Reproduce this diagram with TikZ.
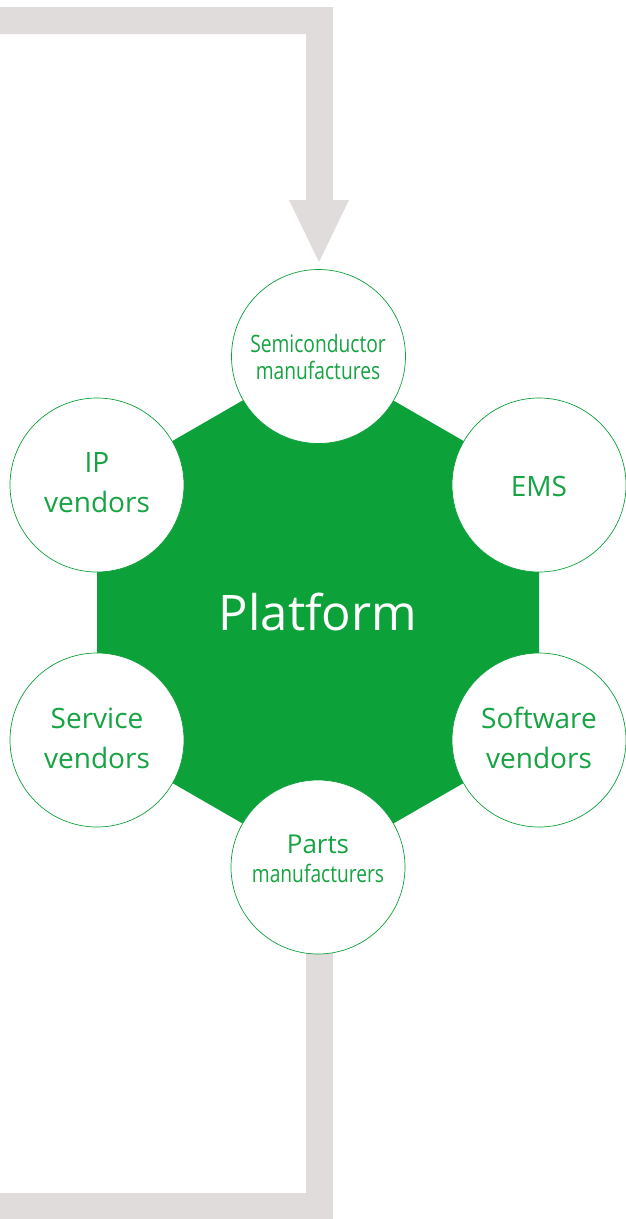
\documentclass[tikz,border=0pt]{standalone}
\usepackage{fontspec}
\setmainfont{Open Sans}
\newfontfamily\condfont[FakeStretch=0.8]{Open Sans}
\definecolor{hexgreen}{RGB}{13,161,58}
\definecolor{txtgreen}{RGB}{22,163,66}
\definecolor{arrowgray}{RGB}{224,220,219}
\begin{document}
\begin{tikzpicture}[x=1pt,y=-1pt,
  member/.style={circle,draw=hexgreen,line width=0.7pt,fill=white,minimum size=174pt,inner sep=0pt},
  lbl/.style={text=txtgreen,align=center,inner sep=0pt,font=\fontsize{28}{40}\selectfont},
  smalllbl/.style={text=txtgreen,align=center,inner sep=0pt,font=\condfont\fontsize{24}{27}\selectfont},
  band/.style={fill=arrowgray,draw=none}]
\useasboundingbox (0,0) rectangle (625,1219);
% flow arrows
\coordinate (topstart) at (0,7);
\coordinate (tipend) at (319,262);
\fill[band] (topstart) -- (333,7) -- (333,200) -- (349,200) -- (tipend) -- (289,200) -- (306,200) -- (306,34) -- (0,34) -- cycle;
\coordinate (botend) at (0,1219);
\fill[band] (306,950) -- (333,950) -- (333,1219) -- (botend) -- (0,1193) -- (306,1193) -- cycle;
% hexagon
\fill[hexgreen] (318,357) -- (539,484.5) -- (539,739.5) -- (318,867) -- (97,739.5) -- (97,484.5) -- cycle;
\node[text=white,inner sep=0pt,font=\fontsize{49}{55}\selectfont] (platform) at (318,612) {Platform};
% member circles
\node[member] (semi) at (318.5,356.5) {};
\node[member] (ip) at (97,485) {};
\node[member] (ems) at (539,485) {};
\node[member] (service) at (97,740) {};
\node[member] (software) at (539,740) {};
\node[member] (parts) at (318,867) {};
% labels
\node[smalllbl] (semitxt) at (318,357) {Semiconductor\\manufactures};
\node[lbl] (iptxt) at (97,483) {IP\\vendors};
\node[lbl] (emstxt) at (539,486) {EMS};
\node[lbl] (servicetxt) at (97,738) {Service\\vendors};
\node[lbl] (softwaretxt) at (539,738) {Software\\vendors};
\node[text=txtgreen,inner sep=0pt,font=\fontsize{26}{30}\selectfont,anchor=base] (partstxt) at (318,853) {Parts};
\node[text=txtgreen,inner sep=0pt,font=\condfont\fontsize{24}{27}\selectfont,anchor=base] (mfgtxt) at (318,882) {manufacturers};
\end{tikzpicture}
\end{document}
